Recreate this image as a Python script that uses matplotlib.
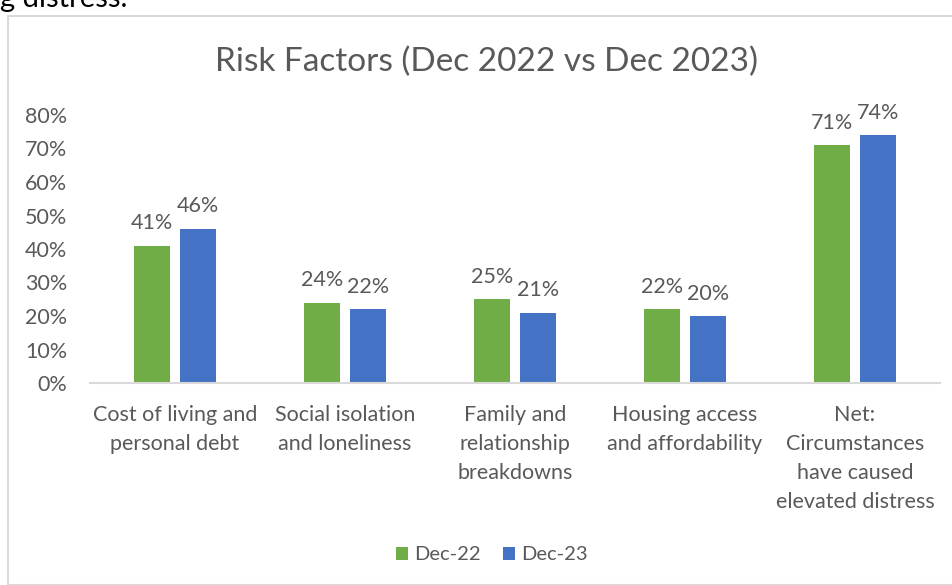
import numpy as np
import matplotlib.pyplot as plt
from matplotlib.patches import Rectangle

# Data
categories = ['Cost of living and\npersonal debt', 'Social isolation\nand loneliness',
              'Family and\nrelationship\nbreakdowns', 'Housing access\nand affordability',
              'Net:\nCircumstances\nhave caused\nelevated distress']
dec22 = [0.41, 0.24, 0.25, 0.22, 0.71]
dec23 = [0.46, 0.22, 0.21, 0.20, 0.74]
series_names = ['Dec-22', 'Dec-23']
yticks = [0, 0.1, 0.2, 0.3, 0.4, 0.5, 0.6, 0.7, 0.8]

green = '#70AD47'
blue = '#4472C4'
text_gray = '#595959'
line_gray = '#D9D9D9'

plt.rcParams['font.family'] = ['Lato', 'DejaVu Sans']

fig = plt.figure(figsize=(9.52, 5.85), dpi=100)

# chart border box
fig.patches.append(Rectangle((8 / 952, 0), 1.0, 1 - 16 / 585, transform=fig.transFigure,
                             fill=False, edgecolor=line_gray, linewidth=1.5))
# clipped text from the surrounding document
fig.text(0.0, 1 - 7 / 585, 'g distress.', fontsize=21, color='black', va='baseline', ha='left')

ax = fig.add_axes([90 / 952, 1 - 383 / 585, 850 / 952, 268 / 585])

x = np.arange(len(categories))
w = 0.215
gap = 0.055
b1 = ax.bar(x - (w + gap) / 2, dec22, w, color=green, label=series_names[0])
b2 = ax.bar(x + (w + gap) / 2, dec23, w, color=blue, label=series_names[1])

for bars, vals in ((b1, dec22), (b2, dec23)):
    for rect, v in zip(bars, vals):
        ax.annotate(f'{v:.0%}', (rect.get_x() + rect.get_width() / 2, v),
                    xytext=(0, 9), textcoords='offset points', ha='center', va='bottom',
                    fontsize=15.5, color=text_gray)

ax.set_xlim(-0.5, len(categories) - 0.5)
ax.set_ylim(0, 0.8)
ax.set_yticks(yticks)
ax.set_yticklabels([f'{t:.0%}' for t in yticks])
ax.set_xticks(x)
ax.set_xticklabels(categories, linespacing=1.55)
ax.tick_params(axis='both', length=0, labelsize=15.5, labelcolor=text_gray)
ax.tick_params(axis='y', pad=16.5)
ax.tick_params(axis='x', pad=16)
for side in ('top', 'right', 'left'):
    ax.spines[side].set_visible(False)
ax.spines['bottom'].set_color(line_gray)
ax.spines['bottom'].set_linewidth(1.5)

fig.suptitle('Risk Factors (Dec 2022 vs Dec 2023)', x=487 / 952, y=1 - 62 / 585, va='center',
             fontsize=24, color=text_gray)

fig.legend(loc='center', bbox_to_anchor=(492 / 952, 1 - 555 / 585), ncol=2, frameon=False,
           fontsize=14.5, labelcolor=text_gray, handlelength=0.6, handleheight=0.6,
           handletextpad=0.3, columnspacing=1.1)

fig.savefig('out.png', dpi=100)
